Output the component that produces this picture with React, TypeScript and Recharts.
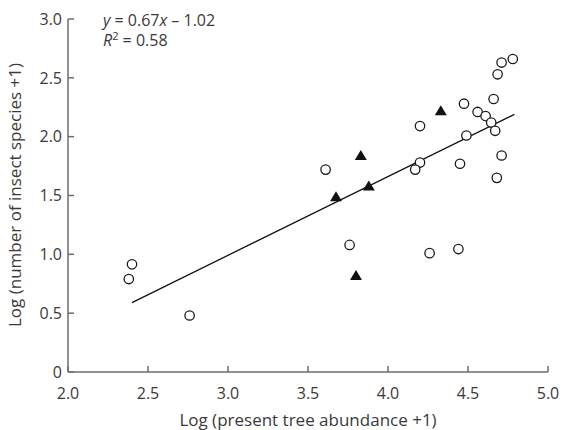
import React from 'react';
import { ScatterChart, Scatter, XAxis, YAxis, ReferenceLine, Label } from 'recharts';

const xTicks = [2.0, 2.5, 3.0, 3.5, 4.0, 4.5, 5.0];
const yTicks = [0, 0.5, 1.0, 1.5, 2.0, 2.5, 3.0];

const circleX = [4.78, 4.71, 4.685, 4.66, 4.475, 4.56, 4.61, 4.645, 4.67, 4.49, 4.2, 4.71, 4.2, 4.17, 4.45, 4.68, 3.61, 3.76, 4.26, 4.44, 2.4, 2.38, 2.76];
const circleY = [2.66, 2.63, 2.53, 2.32, 2.28, 2.21, 2.175, 2.12, 2.05, 2.01, 2.09, 1.84, 1.78, 1.72, 1.77, 1.65, 1.72, 1.08, 1.01, 1.045, 0.915, 0.79, 0.48];
const triangleX = [4.33, 3.83, 3.88, 3.675, 3.8];
const triangleY = [2.22, 1.84, 1.58, 1.49, 0.82];
const fitX = [2.4, 4.79];
const fitY = [0.59, 2.19];

const circles = circleX.map((x, i) => ({ x, y: circleY[i] }));
const triangles = triangleX.map((x, i) => ({ x, y: triangleY[i] }));

const FONT = '"Open Sans", "Noto Sans", sans-serif';
const AXIS = '#6e6e6e';
const TEXT = '#3a3a3a';

const CircleShape = (p: any) => (
  <circle cx={p.cx} cy={p.cy} r={4.7} fill="#fff" stroke="#1a1a1a" strokeWidth={1.3} />
);
const TriShape = (p: any) => {
  const { cx, cy } = p;
  return <path d={`M${cx},${cy - 5.5}L${cx + 6},${cy + 4.5}L${cx - 6},${cy + 4.5}Z`} fill="#111" />;
};

export default function App() {
  return (
    <div style={{ position: 'absolute', left: 0, top: 0, width: 562, height: 430, background: '#fff', fontFamily: FONT }}>
      <ScatterChart width={562} height={430} margin={{ top: 19, right: 14, bottom: 0, left: 0 }}>
        <XAxis
          type="number"
          dataKey="x"
          domain={[2, 5]}
          ticks={xTicks}
          tickFormatter={(v: number) => v.toFixed(1)}
          height={58}
          tickSize={-6}
          tickMargin={22}
          axisLine={{ stroke: AXIS, strokeWidth: 1.5 }}
          tickLine={{ stroke: AXIS, strokeWidth: 1.5 }}
          tick={{ fill: TEXT, fontSize: 16, fontFamily: FONT }}
          allowDataOverflow
        >
          <Label
            content={() => (
              <text x={308} y={426} textAnchor="middle" fill={TEXT} fontSize={17} fontFamily={FONT}>
                Log (present tree abundance +1)
              </text>
            )}
          />
        </XAxis>
        <YAxis
          type="number"
          dataKey="y"
          domain={[0, 3]}
          ticks={yTicks}
          tickFormatter={(v: number) => (v === 0 ? '0' : v.toFixed(1))}
          width={68}
          tickSize={-6}
          tickMargin={12}
          axisLine={{ stroke: AXIS, strokeWidth: 1.5 }}
          tickLine={{ stroke: AXIS, strokeWidth: 1.5 }}
          tick={{ fill: TEXT, fontSize: 16, fontFamily: FONT }}
          allowDataOverflow
        >
          <Label
            content={() => (
              <text
                x={21}
                y={195}
                transform="rotate(-90 21 195)"
                textAnchor="middle"
                fill={TEXT}
                fontSize={17}
                fontFamily={FONT}
              >
                Log (number of insect species +1)
              </text>
            )}
          />
        </YAxis>
        <ReferenceLine
          segment={[{ x: fitX[0], y: fitY[0] }, { x: fitX[1], y: fitY[1] }]}
          stroke="#111"
          strokeWidth={1.3}
        />
        <Scatter data={circles} shape={CircleShape} isAnimationActive={false} />
        <Scatter data={triangles} shape={TriShape} isAnimationActive={false} />
      </ScatterChart>
      <div
        style={{
          position: 'absolute',
          left: 103,
          top: 10,
          fontSize: 16,
          lineHeight: '20px',
          color: TEXT,
          fontFamily: FONT,
          whiteSpace: 'nowrap',
        }}
      >
        <div>
          <i>y</i> = 0.67<i>x</i> – 1.02
        </div>
        <div>
          <i>R</i>
          <sup style={{ fontSize: 11, lineHeight: 0 }}>2</sup> = 0.58
        </div>
      </div>
    </div>
  );
}
